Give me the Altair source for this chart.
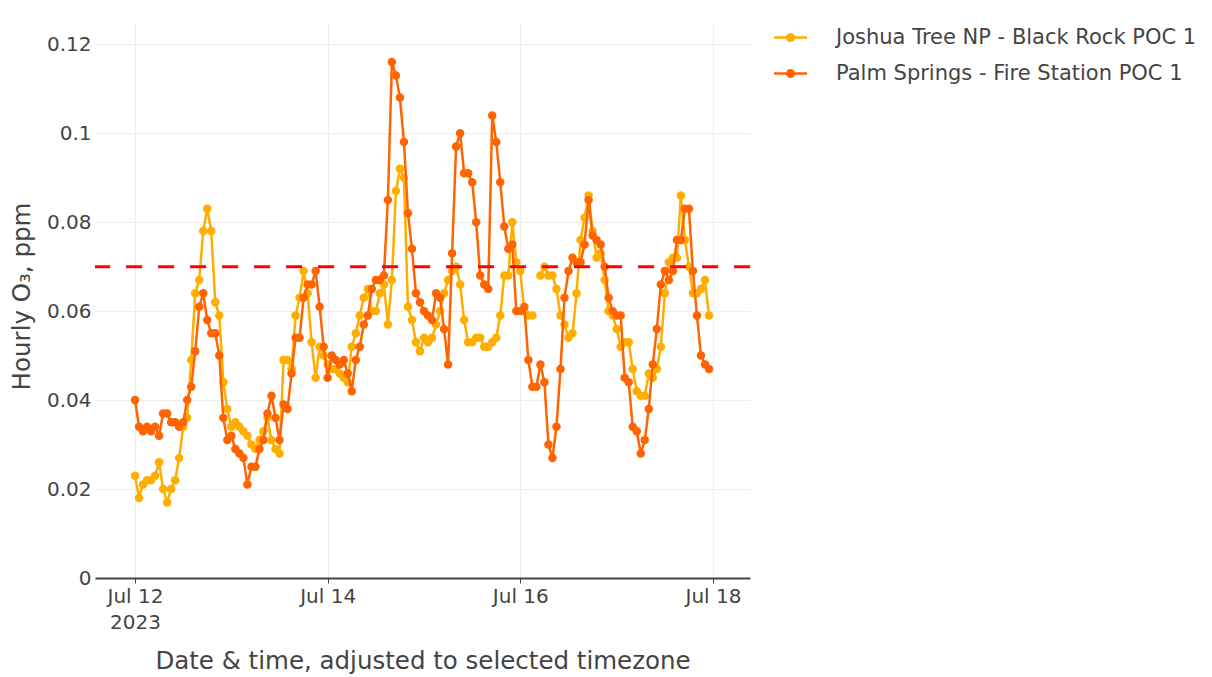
import altair as alt
import pandas as pd

# ---------------- data ----------------
sites = ["Joshua Tree NP - Black Rock POC 1", "Palm Springs - Fire Station POC 1"]
site_colors = ["#FFAE00", "#FF6400"]
first_hour = "2023-07-12 00:00"

# hourly O3 (ppm), Joshua Tree NP - Black Rock POC 1 (None = missing hour)
joshua = [
    0.023, 0.018, 0.021, 0.022, 0.022, 0.023, 0.026, 0.020, 0.017, 0.020, 0.022, 0.027,
    0.034, 0.036, 0.049, 0.064, 0.067, 0.078, 0.083, 0.078, 0.062, 0.059, 0.044, 0.038,
    0.034, 0.035, 0.034, 0.033, 0.032, 0.030, 0.029, 0.031, 0.033, 0.036, 0.031, 0.029,
    0.028, 0.049, 0.049, 0.047, 0.059, 0.063, 0.069, 0.064, 0.053, 0.045, 0.052, 0.050,
    0.048, 0.047, 0.047, 0.046, 0.045, 0.044, 0.052, 0.055, 0.059, 0.063, 0.065, 0.060,
    0.060, 0.064, 0.066, 0.057, 0.067, 0.087, 0.092, 0.090, 0.061, 0.058, 0.053, 0.051,
    0.054, 0.053, 0.054, 0.057, 0.060, 0.064, 0.067, 0.069, 0.070, 0.066, 0.058, 0.053,
    0.053, 0.054, 0.054, 0.052, 0.052, 0.053, 0.054, 0.059, 0.068, 0.068, 0.080, 0.071,
    0.069, 0.060, 0.059, 0.059, None, 0.068, 0.070, 0.068, 0.068, 0.065, 0.059, 0.057,
    0.054, 0.055, 0.064, 0.076, 0.081, 0.086, 0.078, 0.072, 0.073, 0.067, 0.060, 0.059,
    0.056, 0.052, 0.053, 0.053, 0.047, 0.042, 0.041, 0.041, 0.046, 0.045, 0.047, 0.052,
    0.064, 0.071, 0.072, 0.072, 0.086, 0.076, 0.070, 0.064, 0.064, 0.065, 0.067, 0.059,
]

# hourly O3 (ppm), Palm Springs - Fire Station POC 1
palm = [
    0.040, 0.034, 0.033, 0.034, 0.033, 0.034, 0.032, 0.037, 0.037, 0.035, 0.035, 0.034,
    0.035, 0.040, 0.043, 0.051, 0.061, 0.064, 0.058, 0.055, 0.055, 0.050, 0.036, 0.031,
    0.032, 0.029, 0.028, 0.027, 0.021, 0.025, 0.025, 0.029, 0.031, 0.037, 0.041, 0.036,
    0.031, 0.039, 0.038, 0.046, 0.054, 0.054, 0.063, 0.066, 0.066, 0.069, 0.061, 0.052,
    0.045, 0.050, 0.049, 0.048, 0.049, 0.046, 0.042, 0.049, 0.052, 0.057, 0.059, 0.065,
    0.067, 0.067, 0.068, 0.085, 0.116, 0.113, 0.108, 0.098, 0.082, 0.074, 0.064, 0.062,
    0.060, 0.059, 0.058, 0.064, 0.063, 0.056, 0.048, 0.073, 0.097, 0.100, 0.091, 0.091,
    0.089, 0.080, 0.068, 0.066, 0.065, 0.104, 0.098, 0.089, 0.079, 0.074, 0.075, 0.060,
    0.060, 0.061, 0.049, 0.043, 0.043, 0.048, 0.044, 0.030, 0.027, 0.034, 0.047, 0.063,
    0.069, 0.072, 0.071, 0.071, 0.075, 0.085, 0.077, 0.076, 0.075, 0.070, 0.063, 0.060,
    0.059, 0.059, 0.045, 0.044, 0.034, 0.033, 0.028, 0.031, 0.038, 0.048, 0.056, 0.066,
    0.069, 0.067, 0.069, 0.076, 0.076, 0.083, 0.083, 0.069, 0.059, 0.050, 0.048, 0.047,
]

standard_ppm = [0.07]
y_tick_values = [0, 0.02, 0.04, 0.06, 0.08, 0.1, 0.12]
x_tick_days = [12, 14, 16, 18]

# ---------------- table ----------------
times = pd.date_range(first_hour, periods=len(palm), freq="h").strftime("%Y-%m-%dT%H:%M:%S")
df = pd.concat(
    [
        pd.DataFrame({"time": times, "value": joshua, "site": sites[0]}),
        pd.DataFrame({"time": times, "value": palm, "site": sites[1]}),
    ],
    ignore_index=True,
)
df["value"] = df["value"].astype(float)
rule_df = pd.DataFrame({"value": standard_ppm})

FONT = "DejaVu Sans"
TXT = "#444444"
GRID = "#EEEEEE"

legend_path = (
    "M-1.5,0L1.5,0"
    "M-0.09,0A0.09,0.09 0 1,0 0.09,0A0.09,0.09 0 1,0 -0.09,0"
    "M-0.2,0A0.2,0.2 0 1,0 0.2,0A0.2,0.2 0 1,0 -0.2,0"
    "M-0.3,0A0.3,0.3 0 1,0 0.3,0A0.3,0.3 0 1,0 -0.3,0"
)

legend = alt.Legend(
    orient="none",
    legendX=683,
    legendY=3,
    direction="vertical",
    padding=0,
    rowPadding=13,
    symbolType=legend_path,
    symbolSize=484,
    symbolStrokeWidth=2.5,
    labelOffset=33,
    labelFont=FONT,
    labelFontSize=21,
    labelColor=TXT,
    labelLimit=600,
)

x_enc = alt.X(
    "time:T",
    title="Date & time, adjusted to selected timezone",
    scale=alt.Scale(
        domain=[
            alt.DateTime(year=2023, month=7, date=11, hours=14, minutes=2),
            alt.DateTime(year=2023, month=7, date=18, hours=9, minutes=13),
        ]
    ),
    axis=alt.Axis(
        values=[alt.DateTime(year=2023, month=7, date=d) for d in x_tick_days],
        labelExpr="date(datum.value) == 12 ? [timeFormat(datum.value, '%b %d'), '2023'] : timeFormat(datum.value, '%b %d')",
        grid=True,
        gridColor=GRID,
        gridWidth=1,
        domainColor=TXT,
        domainWidth=2,
        tickColor=TXT,
        tickSize=5,
        tickWidth=1,
        labelFont=FONT,
        labelFontSize=20,
        labelColor=TXT,
        labelPadding=3,
        labelLineHeight=26,
        labelFlush=False,
        titleFont=FONT,
        titleFontSize=24.5,
        titleFontWeight="normal",
        titleColor=TXT,
        titleX=327.5,
        titleY=83,
        titleBaseline="middle",
    ),
)

y_enc = alt.Y(
    "value:Q",
    title="Hourly O₃, ppm",
    scale=alt.Scale(domain=[0, 0.125], nice=False, zero=True),
    axis=alt.Axis(
        values=y_tick_values,
        format="~g",
        grid=True,
        gridColor=GRID,
        gridWidth=1,
        domain=False,
        ticks=False,
        labelFont=FONT,
        labelFontSize=20,
        labelColor=TXT,
        labelPadding=4,
        titleFont=FONT,
        titleFontSize=24.5,
        titleFontWeight="normal",
        titleColor=TXT,
        titleX=-73,
        titleY=274,
        titleBaseline="middle",
    ),
)

color_enc = alt.Color(
    "site:N",
    title=None,
    scale=alt.Scale(domain=sites, range=site_colors),
    legend=legend,
)

layers = []
for s in sites:
    base = alt.Chart(df).transform_filter(alt.datum.site == s).encode(
        x=x_enc, y=y_enc, color=color_enc
    )
    layers.append(base.mark_line(strokeWidth=2.5))
    layers.append(base.mark_circle(size=72, opacity=1))

rule = alt.Chart(rule_df).mark_rule(
    color="#FF0000", strokeDash=[16, 16], strokeWidth=3
).encode(y=y_enc)

chart = (
    alt.layer(*layers, rule)
    .properties(
        width=655,
        height=556,
        autosize=alt.AutoSizeParams(type="none"),
        padding={"left": 87, "top": 14, "right": 450, "bottom": 98},
    )
    .configure(font=FONT)
    .configure_view(strokeWidth=0)
)

chart.save("out.html", embed_options={"renderer": "svg", "actions": False})
